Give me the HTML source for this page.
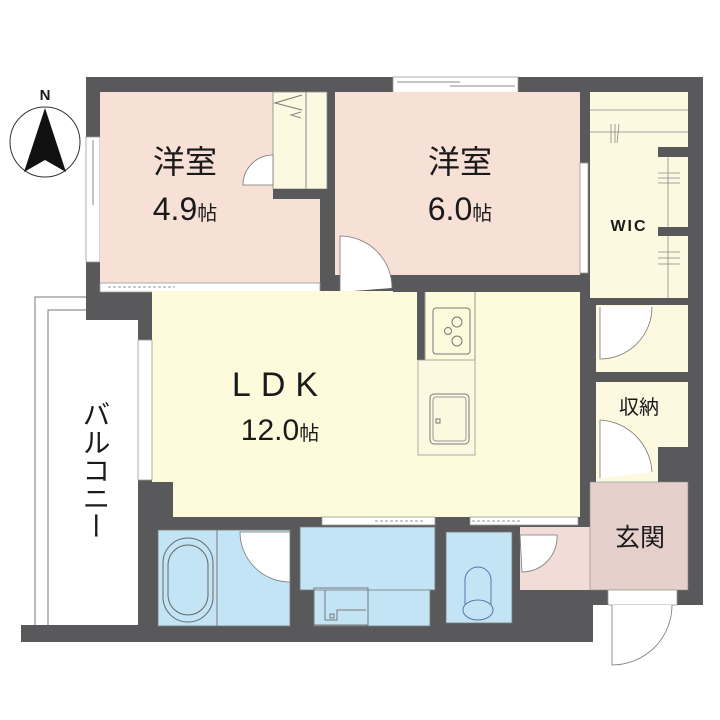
<!DOCTYPE html>
<html><head><meta charset="utf-8"><style>
html,body{margin:0;padding:0;background:#fff;}
svg{display:block}
text{font-family:"Liberation Sans","Noto Sans CJK JP",sans-serif;fill:#1a1a1a}
</style></head><body>
<svg width="720" height="720" viewBox="0 0 720 720" xmlns="http://www.w3.org/2000/svg">
<g fill="none" stroke="#777" stroke-width="1">
<path d="M35,625 V297 H86"/><path d="M48,625 V310 H86"/>
</g>
<polygon fill="#59595b" points="86,77 703,77 703,605 593,605 593,642 21,642 21,625 138,625 138,320 86,320"/>
<rect x="86" y="137" width="14" height="125" fill="#fff" stroke="#999" stroke-width="0.8"/>
<line x1="93" y1="140" x2="93" y2="205" stroke="#888"/>
<rect x="393" y="77" width="125" height="16" fill="#fff" stroke="#999" stroke-width="0.8"/>
<line x1="397" y1="82" x2="460" y2="82" stroke="#888"/><line x1="450" y1="86" x2="515" y2="86" stroke="#888"/>
<rect x="100" y="92" width="220" height="191" fill="#f7e0d5"/>
<rect x="273" y="92" width="54" height="97" fill="#fcf9e0" stroke="#888" stroke-width="0.8"/>
<line x1="306" y1="92" x2="306" y2="189" stroke="#888"/>
<rect x="273" y="189" width="54" height="10" fill="#59595b"/>
<path d="M301,112 L291,115 L301,118" fill="none" stroke="#888"/>
<path d="M302,110 L275,103 L302,95" fill="none" stroke="#777"/>
<path d="M273,185 L243,185 A30,30 0 0 1 273,155 Z" fill="#fff" stroke="#777" stroke-width="0.8"/>
<rect x="100" y="283" width="220" height="9" fill="#fff" stroke="#999" stroke-width="0.8"/>
<line x1="108" y1="287" x2="175" y2="287" stroke="#999" stroke-dasharray="3,2"/>
<rect x="335" y="92" width="245" height="183" fill="#f7e0d5"/>
<rect x="580" y="163" width="8" height="110" fill="#fff" stroke="#999" stroke-width="0.8"/>
<path d="M340,292 V236 A52,52 0 0 1 392,288" fill="#fff" stroke="#777" stroke-width="0.8"/>
<rect x="590" y="92" width="98" height="206" fill="#fcf9e0"/>
<g stroke="#888" stroke-width="0.8" fill="none">
<line x1="590" y1="110" x2="688" y2="110"/><line x1="590" y1="132" x2="688" y2="132"/>
<line x1="668" y1="157" x2="668" y2="298"/>
<path d="M611,124 L611,143 M615,124 L615,143 M619,124 L617,143"/>
<path d="M658,173 H680 M658,178 H680 M658,183 H680"/>
<path d="M658,252 H680 M658,258 H680 M658,264 H680"/>
</g>
<rect x="658" y="147" width="30" height="10" fill="#59595b"/>
<rect x="658" y="227" width="30" height="9" fill="#59595b"/>
<rect x="596" y="305" width="92" height="67" fill="#fcf9e0"/>
<rect x="655" y="298" width="33" height="7" fill="#59595b"/>
<rect x="596" y="382" width="92" height="65" fill="#fcf9e0"/>
<rect x="596" y="447" width="62" height="36" fill="#fcf9e0"/>
<path d="M600,307 V359 A52,52 0 0 0 652,307" fill="#fff" stroke="#777" stroke-width="0.8"/>
<path d="M600,478 V420 A55,55 0 0 1 652,472" fill="#fff" stroke="#777" stroke-width="0.8"/>
<polygon fill="#fdfbdc" points="152,291 393,291 393,292 580,292 580,517 173,517 173,482 152,482"/>
<rect x="417" y="292" width="8" height="68" fill="#59595b"/>
<rect x="418" y="360" width="57" height="95" fill="#fcf9e0" stroke="#999" stroke-width="0.8"/>
<line x1="425" y1="292" x2="425" y2="360" stroke="#999"/>
<line x1="475" y1="292" x2="475" y2="360" stroke="#999"/>
<rect x="433" y="308" width="37" height="46" rx="3" fill="none" stroke="#777"/>
<circle cx="457" cy="322" r="5" fill="none" stroke="#777"/><circle cx="448" cy="331" r="3.5" fill="none" stroke="#777"/><circle cx="457" cy="341" r="5" fill="none" stroke="#777"/>
<rect x="430" y="394" width="39" height="50" rx="4" fill="none" stroke="#777"/>
<rect x="433" y="397" width="33" height="44" rx="3" fill="none" stroke="#999"/>
<rect x="436" y="419" width="4" height="4" fill="none" stroke="#777"/>
<rect x="138" y="340" width="14" height="140" fill="#fff" stroke="#999" stroke-width="0.8"/>
<rect x="322" y="517" width="113" height="8" fill="#fff" stroke="#999" stroke-width="0.8"/>
<line x1="375" y1="521" x2="425" y2="521" stroke="#999" stroke-dasharray="3,2"/>
<rect x="470" y="517" width="108" height="8" fill="#fff" stroke="#999" stroke-width="0.8"/>
<line x1="472" y1="521" x2="522" y2="521" stroke="#999" stroke-dasharray="3,2"/>
<rect x="158" y="530" width="132" height="96" fill="#c3e4f5" stroke="#777" stroke-width="0.8"/>
<line x1="217" y1="530" x2="217" y2="626" stroke="#777"/>
<rect x="163" y="538" width="50" height="84" rx="25" fill="none" stroke="#666"/>
<rect x="168" y="545" width="40" height="70" rx="20" fill="none" stroke="#666"/>
<path d="M290,532 H240 A50,50 0 0 0 290,582 Z" fill="#fff" stroke="#777" stroke-width="0.8"/>
<polygon fill="#c3e4f5" stroke="#777" stroke-width="0.8" points="300,527 435,527 435,590 430,590 430,626 314,626 314,590 300,590"/>
<rect x="314" y="590" width="116" height="36" fill="#c3e4f5" stroke="#777" stroke-width="0.8"/>
<rect x="314" y="588" width="54" height="37" fill="none" stroke="#777"/>
<path d="M325,590 V620 H337 V610 H366" fill="none" stroke="#777"/>
<rect x="330" y="614" width="4" height="4" fill="none" stroke="#777"/>
<rect x="446" y="532" width="66" height="91" fill="#c3e4f5" stroke="#777" stroke-width="0.8"/>
<path d="M465,605 V580 A13,13 0 0 1 491,580 V605" fill="none" stroke="#5577aa"/>
<ellipse cx="478" cy="610" rx="15" ry="10" fill="none" stroke="#5577aa"/>
<rect x="520" y="527" width="70" height="63" fill="#f1dcd7"/>
<rect x="590" y="482" width="98" height="108" fill="#e6d0cc" stroke="#888" stroke-width="0.6"/>
<path d="M520,535 H557 A35,35 0 0 1 522,572 Z" fill="#fff" stroke="#777" stroke-width="0.8"/>
<rect x="608" y="590" width="69" height="15" fill="#fff" stroke="#999" stroke-width="0.8"/>
<path d="M612,605 V665 A60,60 0 0 0 672,605" fill="#fff" stroke="#777" stroke-width="0.8"/>
<circle cx="45" cy="142" r="35" fill="#fff" stroke="#333" stroke-width="1"/>
<polygon points="45,108 24,172 45,160 66,172" fill="#111"/>
<text x="45" y="100" font-size="15" font-weight="bold" text-anchor="middle">N</text>
<text x="185" y="173" font-size="32" text-anchor="middle">洋室</text>
<text x="185" y="220" font-size="32" text-anchor="middle">4.9<tspan font-size="20">帖</tspan></text>
<text x="460" y="173" font-size="32" text-anchor="middle">洋室</text>
<text x="460" y="220" font-size="32" text-anchor="middle">6.0<tspan font-size="20">帖</tspan></text>
<text x="629" y="231" font-size="16" font-weight="bold" text-anchor="middle" letter-spacing="2">WIC</text>
<text x="280" y="396" font-size="34" text-anchor="middle" letter-spacing="10">LDK</text>
<text x="280" y="440" font-size="30" text-anchor="middle">12.0<tspan font-size="20">帖</tspan></text>
<text x="639" y="414" font-size="20" text-anchor="middle">収納</text>
<text x="640" y="546" font-size="25" text-anchor="middle">玄関</text>
<text x="95" y="400" font-size="28" text-anchor="start" writing-mode="tb">バルコニー</text>
</svg>
</body></html>
